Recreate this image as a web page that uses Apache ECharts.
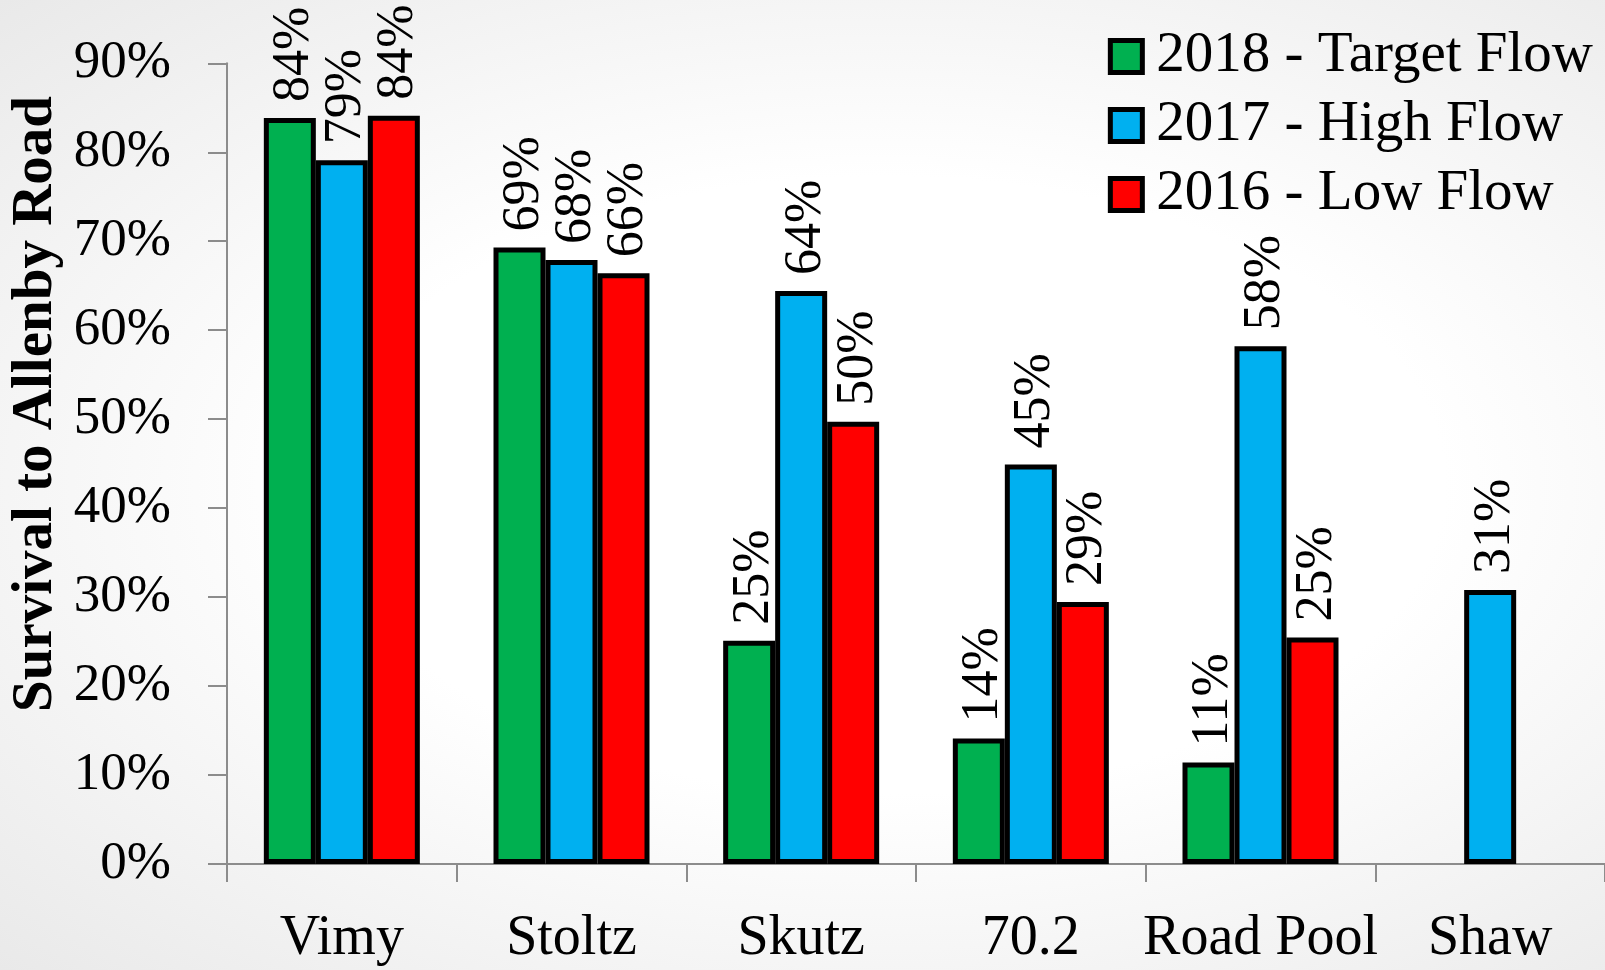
<!DOCTYPE html>
<html>
<head>
<meta charset="utf-8">
<script src="https://cdn.jsdelivr.net/npm/echarts@6/dist/echarts.min.js"></script>
<style>
  html, body { margin: 0; padding: 0; width: 1605px; height: 970px; overflow: hidden;
    background: radial-gradient(ellipse at 55% 50%, #ffffff 45%, #e9e9e9 100%); }
  #chart { width: 1605px; height: 970px; }
</style>
</head>
<body>
<div id="chart"></div>
<script>
const categories = ['Vimy', 'Stoltz', 'Skutz', '70.2', 'Road Pool', 'Shaw'];
const seriesNames = ['2018 - Target Flow', '2017 - High Flow', '2016 - Low Flow'];
const target2018 = [83.85, 69.3, 25.1, 14.1, 11.4, null];
const high2017 = [79.1, 67.9, 64.4, 44.9, 58.2, 30.8];
const low2016 = [84.1, 66.4, 49.7, 29.45, 25.45, null];
const yTicks = [0, 10, 20, 30, 40, 50, 60, 70, 80, 90];
const yAxisTitle = 'Survival to Allenby Road';

const FONT = '"Liberation Serif", "DejaVu Serif", serif';
const colors = ['#00B050', '#00B0F0', '#FF0000'];
const dataSets = [target2018, high2017, low2016];

const chart = echarts.init(document.getElementById('chart'), null, { renderer: 'canvas' });

const series = dataSets.map((d, i) => ({
  name: seriesNames[i],
  type: 'bar',
  data: d,
  barWidth: 52,
  barGap: '0%',
  itemStyle: { color: colors[i], borderColor: '#000', borderWidth: 5 },
  label: {
    show: true,
    position: 'top',
    rotate: 90,
    align: 'left',
    verticalAlign: 'middle',
    distance: 16,
    offset: [0, 5],
    formatter: p => Math.round(p.value) + '%',
    fontFamily: FONT,
    fontSize: 52,
    color: '#000'
  }
}));

chart.setOption({
  backgroundColor: 'transparent',
  animation: false,
  grid: { left: 227, right: 0, top: 63.3, bottom: 106 },
  legend: {
    orient: 'vertical',
    right: 7,
    top: 23,
    itemWidth: 32,
    itemHeight: 32,
    itemGap: 12,
    icon: 'rect',
    itemStyle: { borderColor: '#000', borderWidth: 5 },
    textStyle: { fontFamily: FONT, fontSize: 57, color: '#000', lineHeight: 56, padding: [0, 0, 0, 9] },
    data: seriesNames
  },
  xAxis: {
    type: 'category',
    data: categories,
    axisLine: { lineStyle: { color: '#8c8c8c', width: 2 } },
    axisTick: { show: true, length: 18, lineStyle: { color: '#8c8c8c', width: 2 } },
    axisLabel: { fontFamily: FONT, fontSize: 56, color: '#000', margin: 47, interval: 0 }
  },
  yAxis: {
    type: 'value',
    min: yTicks[0],
    max: yTicks[yTicks.length - 1],
    interval: 10,
    splitLine: { show: false },
    axisLine: { show: true, lineStyle: { color: '#8c8c8c', width: 2 } },
    axisTick: { show: true, length: 19, lineStyle: { color: '#8c8c8c', width: 2 } },
    axisLabel: { fontFamily: FONT, fontSize: 53, color: '#000', margin: 56, formatter: '{value}%' }
  },
  graphic: [{
    type: 'text',
    x: 36,
    y: 404,
    rotation: Math.PI / 2,
    style: {
      text: yAxisTitle,
      font: 'bold 57px ' + FONT,
      fill: '#000',
      textAlign: 'center',
      textVerticalAlign: 'middle'
    }
  }],
  series: series
});
</script>
</body>
</html>
